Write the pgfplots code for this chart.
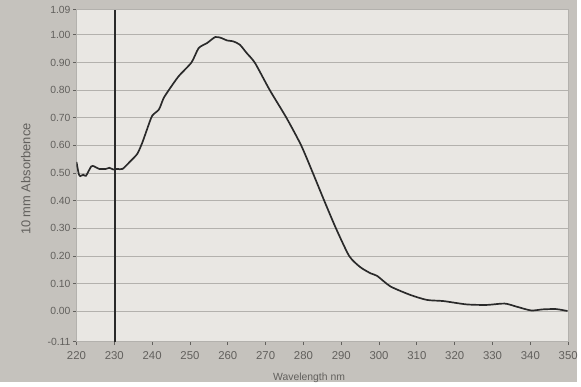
\documentclass[border=0pt]{standalone}
\usepackage{pgfplots}
\pgfplotsset{compat=1.18}
\usepackage{fontspec}
\setmainfont{Liberation Sans}
\definecolor{outerbg}{HTML}{C5C2BD}
\definecolor{plotbg}{HTML}{E9E7E3}
\definecolor{gridc}{HTML}{B3B1AD}
\definecolor{labc}{HTML}{62605D}
\definecolor{curve}{HTML}{2A2A2A}
\begin{document}
\begin{tikzpicture}[x=1bp,y=1bp]
\fill[outerbg] (0,0) rectangle (581,385);
\begin{axis}[
  at={(77bp,41bp)}, anchor=south west,
  scale only axis, width=495bp, height=334bp,
  xmin=220, xmax=350, ymin=-0.11, ymax=1.09,
  axis background/.style={fill=plotbg},
  xtick={220,230,...,350},
  ytick={-0.11,0,0.1,0.2,0.3,0.4,0.5,0.6,0.7,0.8,0.9,1.0,1.09},
  yticklabels={-0.11,0.00,0.10,0.20,0.30,0.40,0.50,0.60,0.70,0.80,0.90,1.00,1.09},
  /pgf/number format/assume math mode=true,
  ymajorgrids, grid style={gridc, line width=0.9pt},
  tick align=outside, major tick length=3.5bp,
  tick style={labc, line width=0.9pt},
  xtick pos=bottom, ytick pos=left,
  axis line style={draw=gridc, line width=0.9pt},
  yticklabel style={font=\fontsize{10.5}{12}\selectfont, text=labc, xshift=1bp},
  xticklabel style={font=\fontsize{11.5}{13}\selectfont, text=labc, yshift=-3bp},
  ylabel={10 mm Absorbence},
  ylabel style={at={(axis description cs:-0.103,0.49)}, anchor=center, rotate=0, font=\fontsize{13}{15}\selectfont, text=labc},
  xlabel={Wavelength nm},
  xlabel style={at={(axis description cs:0.473,-0.11)}, anchor=center, font=\fontsize{10.5}{12}\selectfont, text=labc},
]
\addplot[curve, line width=2pt, no marks] coordinates {(230.1,-0.11) (230.1,1.09)};
\addplot[curve, line width=1.7pt, no marks, smooth, tension=0.4] coordinates {
(220.0,0.540) (220.6,0.497) (221.0,0.489) (221.8,0.494) (222.5,0.490)
(223.9,0.524) (224.7,0.524) (226.0,0.515) (227.8,0.515) (228.7,0.519)
(229.7,0.513) (230.8,0.515) (232.2,0.515) (234.4,0.545) (236.1,0.570)
(237.4,0.610) (238.7,0.660) (240.0,0.707) (241.8,0.730) (243.0,0.770)
(244.4,0.800) (247.0,0.850) (250.4,0.900) (252.3,0.952) (254.5,0.970)
(256.7,0.992) (258.4,0.988) (259.7,0.980) (261.5,0.976) (263.2,0.964)
(265.0,0.934) (267.2,0.898) (271.1,0.800) (275.5,0.700) (279.4,0.600)
(282.5,0.500) (285.5,0.400) (288.6,0.300) (292.1,0.200) (295.0,0.160)
(297.8,0.137) (299.5,0.128) (303.0,0.090) (308.3,0.059) (312.7,0.041)
(317.0,0.037) (323.1,0.025) (328.4,0.023) (333.2,0.028) (336.3,0.017)
(340.2,0.003) (343.3,0.007) (346.8,0.008) (349.8,0.001)
};
\end{axis}
\end{tikzpicture}
\end{document}
